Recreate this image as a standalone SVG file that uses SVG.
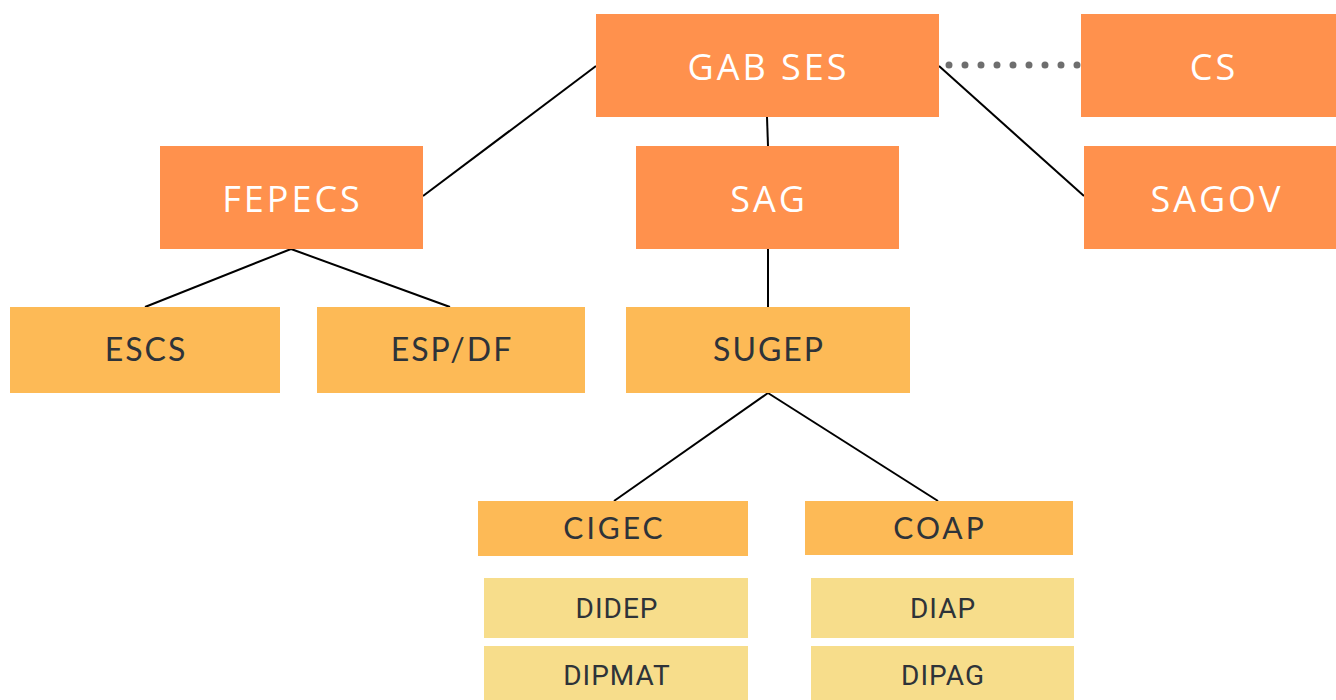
<svg xmlns="http://www.w3.org/2000/svg" width="1336" height="700" viewBox="0 0 1336 700">
<style>
.l1{fill:#FF914D}
.l2{fill:#FDBA56}
.l3{fill:#F7DD8B}
.t1{font-family:"Open Sans","Noto Sans",sans-serif;font-size:36px;letter-spacing:3px;fill:#FFFFFF;text-anchor:middle}
.t2{font-family:"Lato","Noto Sans",sans-serif;font-size:32px;letter-spacing:2px;fill:#2E3339;text-anchor:middle}
.t2s{font-family:"Lato","Noto Sans",sans-serif;font-size:30px;letter-spacing:3px;fill:#2E3339;text-anchor:middle}
.t3{font-family:"Roboto","Noto Sans",sans-serif;font-size:28px;letter-spacing:1px;fill:#2E3339;text-anchor:middle}
.c{stroke:#000;stroke-width:2;fill:none}
.dot{stroke:#6E6E6E;stroke-width:7;stroke-linecap:round;stroke-dasharray:0 16;fill:none}
</style>
<rect width="1336" height="700" fill="#FFFFFF"/>
<g id="connectors">
<line class="c" x1="423" y1="196" x2="596" y2="66"/>
<line class="c" x1="767" y1="117" x2="768" y2="146"/>
<line class="c" x1="939" y1="66" x2="1084" y2="196"/>
<line class="dot" x1="949" y1="65" x2="1078" y2="65"/>
<line class="c" x1="291" y1="249" x2="145" y2="307"/>
<line class="c" x1="291" y1="249" x2="450" y2="307"/>
<line class="c" x1="768" y1="249" x2="768" y2="307"/>
<line class="c" x1="768" y1="393" x2="614" y2="501"/>
<line class="c" x1="768" y1="393" x2="938" y2="501"/>
</g>
<g id="gabses"><rect class="l1" x="596" y="14" width="343" height="103"/><text class="t1" x="768.5" y="80">GAB SES</text></g>
<g id="cs"><rect class="l1" x="1081" y="14" width="255" height="103"/><text class="t1" x="1214" y="80">CS</text></g>
<g id="fepecs"><rect class="l1" x="160" y="146" width="263" height="103"/><text class="t1" x="292.5" y="212">FEPECS</text></g>
<g id="sag"><rect class="l1" x="636" y="146" width="263" height="103"/><text class="t1" x="769" y="212">SAG</text></g>
<g id="sagov"><rect class="l1" x="1084" y="146" width="252" height="103"/><text class="t1" x="1217" y="212">SAGOV</text></g>
<g id="escs"><rect class="l2" x="10" y="307" width="270" height="86"/><text class="t2" x="146" y="361">ESCS</text></g>
<g id="espdf"><rect class="l2" x="317" y="307" width="268" height="86"/><text class="t2" x="452" y="361">ESP/DF</text></g>
<g id="sugep"><rect class="l2" x="626" y="307" width="284" height="86"/><text class="t2" x="769" y="361">SUGEP</text></g>
<g id="cigec"><rect class="l2" x="478" y="501" width="270" height="55"/><text class="t2s" x="614.5" y="539">CIGEC</text></g>
<g id="coap"><rect class="l2" x="805" y="501" width="268" height="54"/><text class="t2s" x="940" y="539">COAP</text></g>
<g id="didep"><rect class="l3" x="484" y="578" width="264" height="60"/><text class="t3" x="617" y="618">DIDEP</text></g>
<g id="dipmat"><rect class="l3" x="484" y="646" width="264" height="54"/><text class="t3" x="617" y="685">DIPMAT</text></g>
<g id="diap"><rect class="l3" x="811" y="578" width="263" height="60"/><text class="t3" x="943" y="618">DIAP</text></g>
<g id="dipag"><rect class="l3" x="811" y="646" width="263" height="54"/><text class="t3" x="943" y="685">DIPAG</text></g>
</svg>
